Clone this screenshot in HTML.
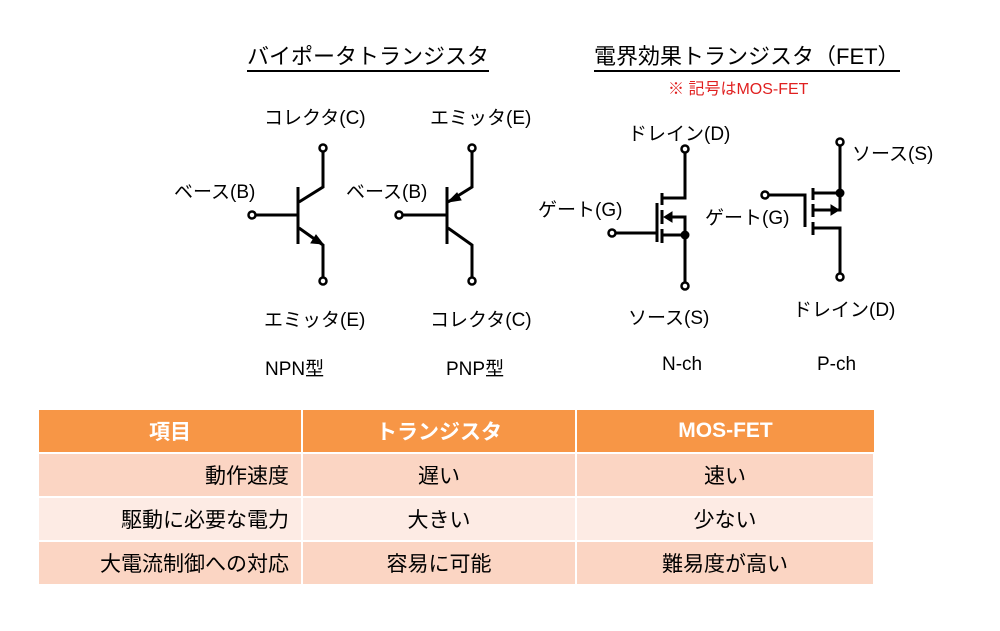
<!DOCTYPE html>
<html><head><meta charset="utf-8"><style>
body{margin:0;width:1000px;height:631px;background:#fff;position:relative;overflow:hidden;font-family:"Liberation Sans","Noto Sans CJK JP",sans-serif;}
.t{position:absolute;white-space:nowrap;color:#000;}
table{position:absolute;left:39px;top:410px;border-collapse:collapse;font-size:21px;}
td{padding:0;height:42px;border-right:2px solid #fff;border-bottom:2px solid #fff;}
</style></head><body>
<div class="t" style="left:247px;top:43px;font-size:22px;border-bottom:2px solid #000;line-height:27px;">バイポータトランジスタ</div>
<div class="t" style="left:594px;top:43px;font-size:22px;border-bottom:2px solid #000;line-height:27px;">電界効果トランジスタ（FET）</div>
<div class="t" style="left:668px;top:75px;font-size:16px;color:#e02020;">※ 記号はMOS-FET</div>

<div class="t" style="left:264px;top:103px;font-size:19px;">コレクタ(C)</div>
<div class="t" style="left:174px;top:177px;font-size:19px;">ベース(B)</div>
<div class="t" style="left:264px;top:305px;font-size:19px;">エミッタ(E)</div>
<div class="t" style="left:430px;top:103px;font-size:19px;">エミッタ(E)</div>
<div class="t" style="left:346px;top:177px;font-size:19px;">ベース(B)</div>
<div class="t" style="left:430px;top:305px;font-size:19px;">コレクタ(C)</div>
<div class="t" style="left:265px;top:354px;font-size:19px;">NPN型</div>
<div class="t" style="left:446px;top:354px;font-size:19px;">PNP型</div>

<div class="t" style="left:628px;top:119px;font-size:19px;">ドレイン(D)</div>
<div class="t" style="left:538px;top:195px;font-size:19px;">ゲート(G)</div>
<div class="t" style="left:628px;top:303px;font-size:19px;">ソース(S)</div>
<div class="t" style="left:852px;top:139px;font-size:19px;">ソース(S)</div>
<div class="t" style="left:705px;top:203px;font-size:19px;">ゲート(G)</div>
<div class="t" style="left:793px;top:295px;font-size:19px;">ドレイン(D)</div>
<div class="t" style="left:662px;top:354px;font-size:19px;">N-ch</div>
<div class="t" style="left:817px;top:354px;font-size:19px;">P-ch</div>

<svg width="1000" height="631" style="position:absolute;left:0;top:0" fill="none" stroke="#000" stroke-width="3">
<g>
<line x1="298" y1="187" x2="298" y2="244"/><line x1="256" y1="215" x2="298" y2="215"/>
<polyline points="299,202 323,187 323,152"/><polyline points="299,228 323,245 323,278"/>
<polygon points="323,244 311,243 316,235" fill="#000" stroke-width="1"/>
<circle cx="323" cy="148" r="3.5" stroke-width="2.5" fill="#fff"/><circle cx="323" cy="281" r="3.5" stroke-width="2.5" fill="#fff"/><circle cx="252" cy="215" r="3.5" stroke-width="2.5" fill="#fff"/>
</g>
<g>
<line x1="447" y1="187" x2="447" y2="244"/><line x1="403" y1="215" x2="447" y2="215"/>
<polyline points="448,202 472,187 472,152"/><polyline points="448,228 472,245 472,278"/>
<polygon points="448,202 457,193 461,200" fill="#000" stroke-width="1"/>
<circle cx="472" cy="148" r="3.5" stroke-width="2.5" fill="#fff"/><circle cx="472" cy="281" r="3.5" stroke-width="2.5" fill="#fff"/><circle cx="399" cy="215" r="3.5" stroke-width="2.5" fill="#fff"/>
</g>
<g>
<line x1="662" y1="193" x2="662" y2="205"/><line x1="662" y1="210" x2="662" y2="224"/><line x1="662" y1="229" x2="662" y2="243"/>
<polyline points="616,233 657,233 657,203"/><line x1="657" y1="233" x2="657" y2="242"/>
<polyline points="685,152 685,198 662,198"/>
<polyline points="668,217 685,217 685,282"/><line x1="662" y1="235" x2="685" y2="235"/>
<polygon points="664,217 672,212 672,222" fill="#000" stroke-width="1"/>
<circle cx="685" cy="235" r="4.5" fill="#000" stroke="none"/>
<circle cx="685" cy="149" r="3.5" stroke-width="2.5" fill="#fff"/><circle cx="685" cy="286" r="3.5" stroke-width="2.5" fill="#fff"/><circle cx="612" cy="233" r="3.5" stroke-width="2.5" fill="#fff"/>
</g>
<g>
<line x1="813" y1="188" x2="813" y2="200"/><line x1="813" y1="204" x2="813" y2="217"/><line x1="813" y1="222" x2="813" y2="235"/>
<polyline points="769,195 805,195 805,227"/>
<polyline points="840,146 840,210 832,210"/><line x1="813" y1="193" x2="840" y2="193"/><line x1="813" y1="210" x2="834" y2="210"/>
<polygon points="839,210 831,205 831,215" fill="#000" stroke-width="1"/>
<polyline points="813,228 840,228 840,273"/>
<circle cx="840" cy="193" r="4.5" fill="#000" stroke="none"/>
<circle cx="840" cy="142" r="3.5" stroke-width="2.5" fill="#fff"/><circle cx="840" cy="277" r="3.5" stroke-width="2.5" fill="#fff"/><circle cx="765" cy="195" r="3.5" stroke-width="2.5" fill="#fff"/>
</g>
</svg>

<table>
<tr style="background:#F79646;color:#fff;font-weight:bold;">
<td style="width:262px;text-align:center;height:38px">項目</td><td style="width:272px;text-align:center">トランジスタ</td><td style="width:297px;text-align:center;border-right:none">MOS-FET</td></tr>
<tr style="background:#FBD5C3"><td style="text-align:right;padding-right:12px;width:250px">動作速度</td><td style="text-align:center">遅い</td><td style="text-align:center">速い</td></tr>
<tr style="background:#FDEBE4"><td style="text-align:right;padding-right:12px">駆動に必要な電力</td><td style="text-align:center">大きい</td><td style="text-align:center">少ない</td></tr>
<tr style="background:#FBD5C3"><td style="text-align:right;padding-right:12px">大電流制御への対応</td><td style="text-align:center">容易に可能</td><td style="text-align:center">難易度が高い</td></tr>
</table>
</body></html>
